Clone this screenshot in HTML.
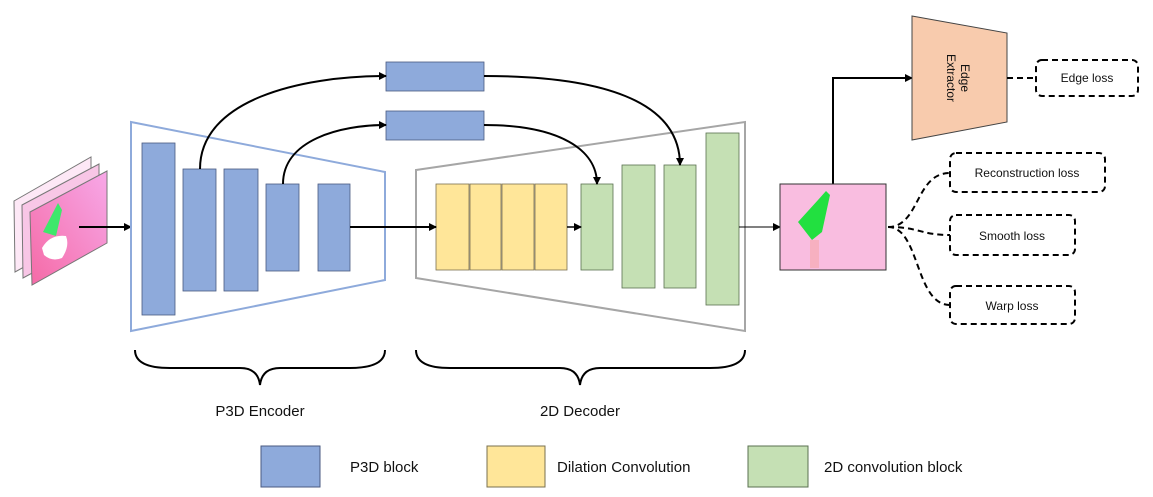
<!DOCTYPE html>
<html><head><style>body{margin:0;background:#fff}svg{display:block}text{font-family:"Liberation Sans",sans-serif;fill:#111}</style></head><body>
<svg width="1153" height="497" viewBox="0 0 1153 497" xmlns="http://www.w3.org/2000/svg">
<defs>
<marker id="a" markerWidth="8" markerHeight="8" refX="7" refY="4" orient="auto" markerUnits="userSpaceOnUse"><path d="M0,0 L8,4 L0,8 z" fill="#000"/></marker>
<linearGradient id="pk" x1="1" y1="0" x2="0" y2="1"><stop offset="0" stop-color="#f7a8e8"/><stop offset="1" stop-color="#f56aa6"/></linearGradient>
</defs>
<!-- input frames -->
<polygon points="14,201 91,157 91,230 15,272" fill="#fde8f6" stroke="#777"/>
<polygon points="22,205 99,164 99,237 23,278" fill="#f8c6e6" stroke="#777"/>
<polygon points="30,212 107,171 107,243 32,285" fill="url(#pk)" stroke="#777"/>
<path d="M43,232 L58,203 L62,210 L56,236 Z" fill="#3ee86b"/>
<path d="M42,248 Q50,234 66,236 Q70,246 62,258 Q52,262 44,255 Z" fill="#fff"/>
<line x1="79" y1="227" x2="131" y2="227" stroke="#000" stroke-width="2" marker-end="url(#a)"/>
<!-- encoder -->
<polygon points="131,122 385,172 385,280 131,331" fill="none" stroke="#8eaadb" stroke-width="2"/>
<g fill="#8eaadb" stroke="#4a5a80" stroke-width="0.8">
<rect x="142" y="143" width="33" height="172"/><rect x="183" y="169" width="33" height="122"/><rect x="224" y="169" width="34" height="122"/><rect x="266" y="184" width="33" height="87"/><rect x="318" y="184" width="32" height="87"/>
<rect x="386" y="62" width="98" height="29"/><rect x="386" y="111" width="98" height="29"/>
</g>
<!-- decoder -->
<polygon points="416,170 745,122 745,331 416,278" fill="none" stroke="#a6a6a6" stroke-width="2"/>
<g fill="#ffe699" stroke="#7a7050" stroke-width="0.8">
<rect x="436" y="184" width="33" height="86"/><rect x="470" y="184" width="31" height="86"/><rect x="502" y="184" width="32" height="86"/><rect x="535" y="184" width="32" height="86"/>
</g>
<g fill="#c5e0b4" stroke="#5a7050" stroke-width="0.8">
<rect x="581" y="184" width="32" height="86"/><rect x="622" y="165" width="33" height="123"/><rect x="664" y="165" width="32" height="123"/><rect x="706" y="133" width="33" height="172"/>
</g>
<g fill="none" stroke="#000" stroke-width="2">
<path d="M200,169 C200,100 300,76 386,76" marker-end="url(#a)"/>
<path d="M484,76 C600,76 680,100 680,165" marker-end="url(#a)"/>
<path d="M283,184 C283,140 340,125 386,125" marker-end="url(#a)"/>
<path d="M484,125 C560,125 597,150 597,184" marker-end="url(#a)"/>
<line x1="350" y1="227" x2="436" y2="227" marker-end="url(#a)"/>
<line x1="567" y1="227" x2="581" y2="227" stroke-width="1.5" marker-end="url(#a)"/>
<line x1="739" y1="227" x2="780" y2="227" stroke-width="1" marker-end="url(#a)"/>
<path d="M833,184 L833,78 L912,78" marker-end="url(#a)"/>
<path d="M135,350 Q135,368 170,368 L240,368 Q258,368 260,385 Q262,368 280,368 L350,368 Q385,368 385,350"/>
<path d="M416,350 Q416,368 450,368 L560,368 Q578,368 580,385 Q582,368 600,368 L710,368 Q745,368 745,350"/>
</g>
<!-- output image -->
<rect x="780" y="184" width="106" height="86" fill="#f9bde0" stroke="#333"/>
<path d="M798,222 L818,200 L826,191 L830,195 L822,232 L812,240 Z" fill="#22e040"/>
<rect x="810" y="240" width="9" height="28" fill="#f7b0c0"/>
<!-- edge extractor -->
<polygon points="912,16 1007,33 1007,122 912,140" fill="#f8cbad" stroke="#444"/>
<text transform="translate(958,78) rotate(90)" text-anchor="middle" font-size="12"><tspan x="0" dy="-3">Edge</tspan><tspan x="0" dy="14">Extractor</tspan></text>
<g fill="none" stroke="#000" stroke-width="2" stroke-dasharray="6,4">
<line x1="1007" y1="78" x2="1036" y2="78"/>
<rect x="1036" y="60" width="102" height="36" rx="6"/>
<rect x="950" y="153" width="155" height="39" rx="6"/>
<rect x="950" y="215" width="125" height="40" rx="6"/>
<rect x="950" y="286" width="125" height="38" rx="6"/>
<path d="M888,227 C920,227 915,173 950,173"/>
<path d="M888,227 C920,227 920,235 950,235"/>
<path d="M888,227 C920,227 915,305 950,305"/>
</g>
<text x="1087" y="82" text-anchor="middle" font-size="12">Edge loss</text>
<text x="1027" y="177" text-anchor="middle" font-size="12">Reconstruction loss</text>
<text x="1012" y="240" text-anchor="middle" font-size="12">Smooth loss</text>
<text x="1012" y="310" text-anchor="middle" font-size="12">Warp loss</text>
<text x="260" y="416" text-anchor="middle" font-size="15">P3D Encoder</text>
<text x="580" y="416" text-anchor="middle" font-size="15">2D Decoder</text>
<rect x="261" y="446" width="59" height="41" fill="#8eaadb" stroke="#4a5a80"/>
<rect x="487" y="446" width="58" height="41" fill="#ffe699" stroke="#7a7050"/>
<rect x="748" y="446" width="60" height="41" fill="#c5e0b4" stroke="#5a7050"/>
<text x="350" y="472" font-size="15">P3D block</text>
<text x="557" y="472" font-size="15">Dilation Convolution</text>
<text x="824" y="472" font-size="15">2D convolution block</text>
</svg>
</body></html>
